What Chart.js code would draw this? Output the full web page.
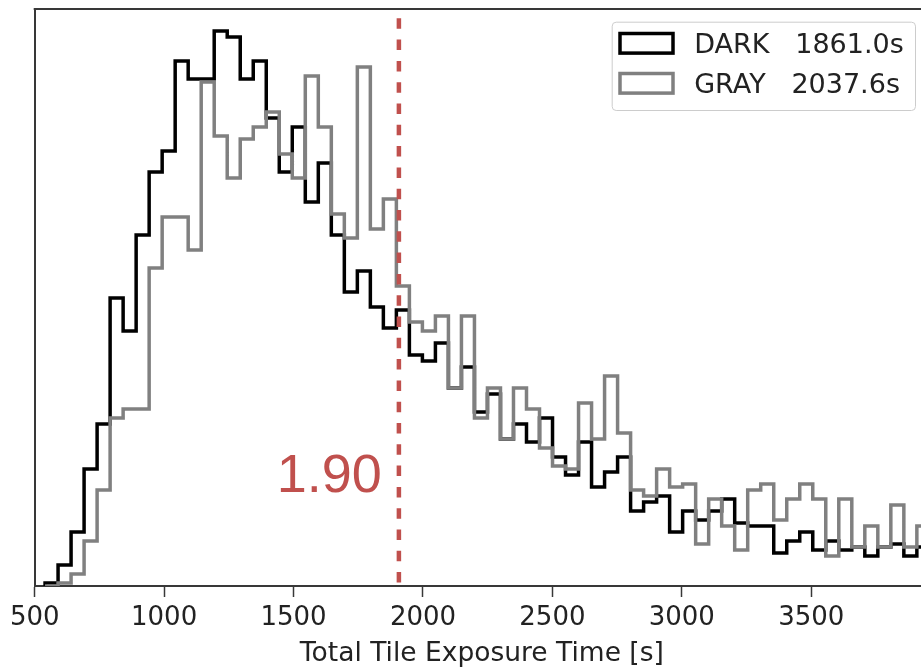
<!DOCTYPE html>
<html>
<head>
<meta charset="utf-8">
<script src="https://cdn.jsdelivr.net/npm/chart.js@4.4.1/dist/chart.umd.min.js"></script>
<style>
  html, body { margin: 0; padding: 0; background: #fff; overflow: hidden; }
  #chart { display: block; }
</style>
</head>
<body>
<canvas id="chart" width="929" height="670"></canvas>
<script>
// histogram bins (seconds)
const binStart = 540
const binWidth = 50.27

// tile counts per bin
const darkCounts = [1, 7, 18, 39, 54, 96, 85, 117, 138, 145, 175, 169, 169, 185, 183, 169, 175, 156, 138, 153,
  128, 141, 117, 98, 105, 93, 86, 92, 77, 75, 81, 66, 73, 58, 64, 49, 54, 48, 56, 43,
  37, 48, 33, 38, 43, 25, 28, 30, 18, 25, 22, 25, 29, 21, 20, 20, 11, 15, 18, 12,
  15, 12, 13, 10, 13, 14, 10, 13]
const grayCounts = [0, 1, 4, 15, 32, 56, 59, 59, 106, 123, 123, 112, 168, 150, 136, 149, 153, 158, 144, 136,
  170, 153, 124, 116, 173, 119, 129, 100, 88, 85, 90, 66, 90, 56, 66, 49, 66, 59, 46, 40,
  39, 61, 49, 70, 51, 32, 30, 39, 33, 34, 14, 29, 20, 12, 32, 34, 22, 29, 34, 29,
  10, 29, 13, 20, 13, 27, 13, 20]

const seriesLabels = ['DARK   1861.0s', 'GRAY   2037.6s']
const xTicks = [500, 1000, 1500, 2000, 2500, 3000, 3500]
const xMin = 500
const xMax = 3955
const yMax = 192.3
const cutValue = 1907
const cutText = '1.90'

const AXIS = '#383838'
const RED = '#C0504D'

// step outline: every corner is its own point so the path is exact
const steps = counts => {
  const pts = [{ x: binStart, y: 0 }]
  counts.forEach((c, i) => {
    pts.push({ x: binStart + i * binWidth, y: c })
    pts.push({ x: binStart + (i + 1) * binWidth, y: c })
  })
  return pts
}

const extras = {
  id: 'extras',
  afterDatasetsDraw(chart) {
    const { ctx, chartArea: a, scales: { x } } = chart
    ctx.save()

    // top spine
    ctx.strokeStyle = AXIS
    ctx.lineWidth = 2
    ctx.beginPath()
    ctx.moveTo(a.left - 1, a.top)
    ctx.lineTo(chart.width, a.top)
    ctx.stroke()

    // dashed cut line
    const cx = x.getPixelForValue(cutValue)
    ctx.strokeStyle = RED
    ctx.lineWidth = 4.5
    ctx.setLineDash([10.5, 10.8])
    ctx.beginPath()
    ctx.moveTo(cx, a.top + 9.3)
    ctx.lineTo(cx, a.bottom - 2)
    ctx.stroke()
    ctx.setLineDash([])

    ctx.fillStyle = RED
    ctx.font = '54px "Liberation Sans", Arial, sans-serif'
    ctx.textAlign = 'right'
    ctx.textBaseline = 'alphabetic'
    ctx.fillText(cutText, cx - 17, a.bottom - 94.3)

    // legend
    const lr = a.right - 14
    const ll = lr - 303.3
    const lt = a.top + 12.7
    ctx.fillStyle = 'rgba(255,255,255,0.8)'
    ctx.strokeStyle = '#cccccc'
    ctx.lineWidth = 1
    ctx.beginPath()
    ctx.roundRect(ll + 0.5, lt + 0.5, lr - ll, 88.3, 4)
    ctx.fill()
    ctx.stroke()

    const colors = ['#000000', '#808080']
    ctx.font = '27px "DejaVu Sans", sans-serif'
    ctx.textAlign = 'left'
    seriesLabels.forEach((lab, i) => {
      const cy = lt + 21.6 + i * 40
      ctx.strokeStyle = colors[i]
      ctx.lineWidth = 3.5
      ctx.strokeRect(ll + 8.3, cy - 9.8, 53, 19.6)
      ctx.fillStyle = '#222'
      ctx.fillText(lab, ll + 82.5, cy + 10)
    })
    ctx.restore()
  }
}

new Chart(document.getElementById('chart'), {
  type: 'line',
  data: {
    datasets: [
      { label: 'DARK', data: steps(darkCounts), borderColor: '#000000', order: 1 },
      { label: 'GRAY', data: steps(grayCounts), borderColor: '#808080', order: 0 }
    ]
  },
  options: {
    responsive: false,
    animation: false,
    layout: { padding: { top: 9, left: 0, right: 0, bottom: 0 } },
    elements: {
      line: { borderWidth: 3.5, fill: false, tension: 0, borderJoinStyle: 'miter', borderCapStyle: 'butt' },
      point: { radius: 0, hoverRadius: 0 }
    },
    plugins: { legend: { display: false }, tooltip: { enabled: false } },
    events: [],
    scales: {
      x: {
        type: 'linear',
        min: xMin,
        max: xMax,
        afterBuildTicks: s => { s.ticks = xTicks.map(v => ({ value: v })) },
        afterFit: s => { s.height = 84 },
        ticks: {
          autoSkip: false, maxRotation: 0, padding: 6, color: '#222',
          callback: v => String(v),
          font: { family: '"DejaVu Sans", sans-serif', size: 26 }
        },
        grid: {
          display: true, drawOnChartArea: false, drawTicks: true,
          tickLength: 11, tickWidth: 1.5, tickColor: AXIS
        },
        border: { display: true, color: AXIS, width: 2 },
        title: {
          display: true,
          text: 'Total Tile Exposure Time [s]',
          color: '#222',
          padding: { top: 0, bottom: 0.3 },
          font: { family: '"DejaVu Sans", sans-serif', size: 26.5, lineHeight: 1.2 }
        }
      },
      y: {
        min: 0,
        max: yMax,
        afterFit: s => { s.width = 34.7 },
        ticks: { display: false },
        grid: { display: false },
        border: { display: true, color: AXIS, width: 2 }
      }
    }
  },
  plugins: [extras]
})
</script>
</body>
</html>
